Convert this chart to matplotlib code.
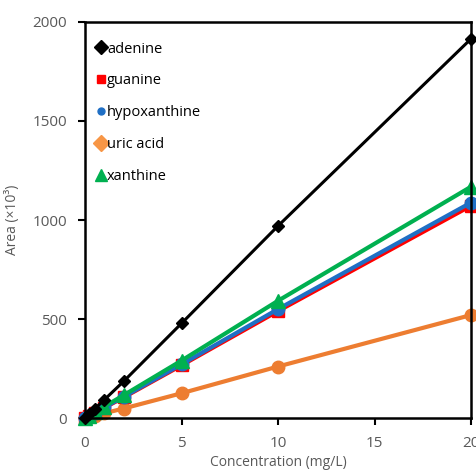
import matplotlib
matplotlib.use("Agg")
import matplotlib.pyplot as plt
from matplotlib.lines import Line2D

plt.rcParams['font.family'] = ['Open Sans', 'DejaVu Sans']

conc = [0, 0.2, 0.5, 1, 2, 5, 10, 20]
adenine = [0, 18, 46, 92, 185, 478, 970, 1915]
guanine = [0, 10, 26, 52, 104, 266, 540, 1072]
hypoxanthine = [0, 11, 27, 54, 107, 271, 550, 1088]
uric_acid = [0, 5, 12, 24, 48, 125, 260, 520]
xanthine = [0, 12, 29, 58, 115, 290, 592, 1168]

names = ["adenine", "guanine", "hypoxanthine", "uric acid", "xanthine"]

fig = plt.figure(figsize=(4.76, 4.71), dpi=100)
ax = fig.add_axes([0.1786, 0.1125, 0.8109, 0.8408])

ax.plot(conc, uric_acid, color="#ed7d31", lw=3, marker="o", ms=9, clip_on=False)
ax.plot(conc, guanine, color="#ff0000", lw=3, marker="s", ms=9, clip_on=False)
ax.plot(conc, hypoxanthine, color="#1f6fc5", lw=3, marker="o", ms=9, clip_on=False)
ax.plot(conc, xanthine, color="#00b050", lw=3, marker="^", ms=10, clip_on=False)
ax.plot(conc, adenine, color="black", lw=2.2, marker="D", ms=6, clip_on=False)

ax.set_xlim(0, 20)
ax.set_ylim(0, 2000)
ax.set_xticks([0, 5, 10, 15, 20])
ax.set_yticks([0, 500, 1000, 1500, 2000])
for s in ax.spines.values():
    s.set_linewidth(1.8)
ax.tick_params(direction="out", width=1.5, length=5, labelsize=11, labelcolor="#595959", pad=8)
ax.set_xlabel("Concentration (mg/L)", fontsize=10, color="#595959")
ax.xaxis.set_label_coords(0.5, -0.093)
ax.set_ylabel("Area (×10³)", fontsize=10, color="#595959")
ax.yaxis.set_label_coords(-0.168, 0.5)

handles = [
    Line2D([], [], ls="", marker="D", color="black", ms=7),
    Line2D([], [], ls="", marker="s", color="#ff0000", ms=6),
    Line2D([], [], ls="", marker="o", color="#1f6fc5", ms=5),
    Line2D([], [], ls="", marker="D", color="#f79646", ms=8),
    Line2D([], [], ls="", marker="^", color="#00b050", ms=9),
]
ax.legend(handles, names, loc="upper left", frameon=False, fontsize=10.5,
          handlelength=0.6, handletextpad=0.1, labelspacing=1.15,
          bbox_to_anchor=(0.0, 0.98), borderaxespad=0.4)

fig.savefig("out.png", dpi=100)
